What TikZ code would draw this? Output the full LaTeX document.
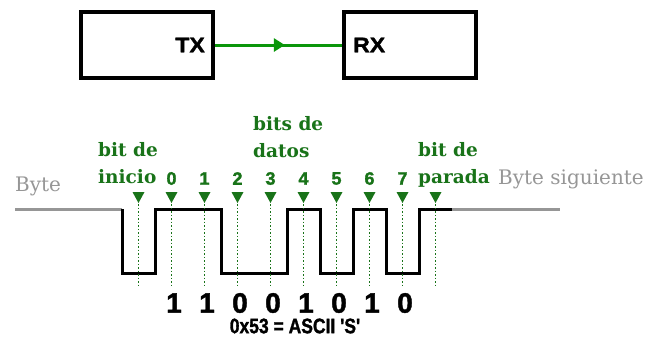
\documentclass[tikz,border=0pt]{standalone}
\usepackage{fontspec}
\setmainfont{DejaVu Serif}
\setsansfont{Liberation Sans}
\newfontfamily\heavysans{Liberation Sans}[BoldFeatures={FakeBold=1.6}]
\usetikzlibrary{arrows.meta,decorations.markings}

\definecolor{wireGreen}{RGB}{10,150,10}
\definecolor{labelGreen}{RGB}{25,115,25}
\definecolor{lineGray}{RGB}{150,150,150}

\begin{document}
\begin{tikzpicture}[x=1pt, y=-1pt]
    \tikzset{
        unitbox/.style={draw=black, line width=4pt, minimum width=132pt, minimum height=66pt, inner sep=0pt},
        unitlabel/.style={font=\heavysans\bfseries\fontsize{23}{25}\selectfont, inner sep=0pt, yscale=0.92, transform shape},
        link/.style={
            draw=wireGreen,
            line width=3pt,
            postaction={decorate},
            decoration={markings, mark=at position 0.55 with {\arrow{Triangle[length=11pt, width=13pt]}}}
        },
        idle/.style={draw=lineGray, line width=3pt},
        signal/.style={draw=black, line width=3pt},
        guide/.style={draw=labelGreen, line width=1.3pt, dash pattern=on 1.5pt off 2pt},
        marker/.style={fill=labelGreen},
        bitnum/.style={text=labelGreen, font=\heavysans\bfseries\fontsize{18}{20}\selectfont, inner sep=0pt},
        fieldlabel/.style={
            text=labelGreen,
            font=\bfseries\fontsize{18.5}{27}\selectfont,
            align=left,
            inner sep=0pt
        },
        framelabel/.style={text=lineGray, font=\fontsize{20}{22}\selectfont, inner sep=0pt},
        bitval/.style={font=\heavysans\bfseries\fontsize{28}{30}\selectfont, inner sep=0pt},
        caption/.style={font=\heavysans\bfseries\fontsize{17.5}{20}\selectfont, inner sep=0pt, yscale=1.2, transform shape}
    }
    \useasboundingbox (0,0) rectangle (656,338);

    % emisor y receptor
    \node[unitbox] (tx) at (147,45) {};
    \node[unitbox] (rx) at (410,45) {};
    \node[unitlabel, anchor=east] (txlabel) at (205,45) {TX};
    \node[unitlabel, anchor=west] (rxlabel) at (353,45) {RX};
    \draw[link] (tx.east) -- (rx.west);

    % trama
    \draw[idle] (15,209) -- (122,209);
    \draw[signal]
        (122,209) -- (122,273) -- (155,273) -- (155,209) -- (221,209)
        -- (221,273) -- (287,273) -- (287,209) -- (320,209) -- (320,273)
        -- (353,273) -- (353,209) -- (386,209) -- (386,273) -- (419,273)
        -- (419,209) -- (452,209);
    \draw[idle] (452,209) -- (560,209);

    \foreach \x in {138.5,171.5,204.5,237.5,270.5,303.5,336.5,369.5,402.5,435.5} {
        \draw[guide] (\x,204) -- (\x,286);
        \fill[marker] (\x-6,192) -- (\x+6,192) -- (\x,203) -- cycle;
    }

    \foreach \k in {0,...,7}
        \node[bitnum] (num\k) at ({171.5+33*\k},178.5) {\k};

    \node[fieldlabel, anchor=north west] (startlabel) at (98,142) {bit de\\inicio};
    \node[fieldlabel, anchor=north west] (datalabel) at (253,116) {bits de\\datos};
    \node[fieldlabel, anchor=north west] (stoplabel) at (418,142) {bit de\\parada};

    \node[framelabel, anchor=base west] (prevbyte) at (15,191) {Byte};
    \node[framelabel, anchor=base west] (nextbyte) at (498,184) {Byte siguiente};

    \foreach \v [count=\k from 0] in {1,1,0,0,1,0,1,0}
        \node[bitval] (val\k) at ({174+33*\k},303) {\v};
    \node[caption] (code) at (295,326) {0x53 = ASCII \textquotesingle S\textquotesingle};
\end{tikzpicture}
\end{document}
